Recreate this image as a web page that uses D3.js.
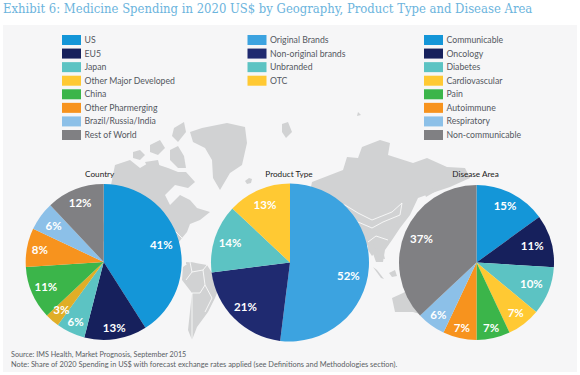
<!DOCTYPE html>
<html>
<head>
<meta charset="utf-8">
<script src="https://cdn.jsdelivr.net/npm/d3@7"></script>
<style>
    html, body { margin: 0; padding: 0; background: #fff; }
    svg { display: block; }
    text { font-family: "Lato", "Open Sans", sans-serif; }
</style>
</head>
<body>
<div id="chart"></div>
<script>
// Exhibit 6: three pies over a grey world map

const titleText = 'Exhibit 6: Medicine Spending in 2020 US$ by Geography, Product Type and Disease Area';
const sourceText = 'Source: IMS Health, Market Prognosis, September 2015';
const noteText = 'Note: Share of 2020 Spending in US$ with forecast exchange rates applied (see Definitions and Methodologies section).';

const countryNames = ['US', 'EU5', 'Japan', 'Other Major Developed', 'China', 'Other Pharmerging', 'Brazil/Russia/India', 'Rest of World'];
const countryValues = [41, 13, 6, 3, 11, 8, 6, 12];
const productNames = ['Original Brands', 'Non-original brands', 'Unbranded', 'OTC'];
const productValues = [52, 21, 14, 13];
const diseaseNames = ['Communicable', 'Oncology', 'Diabetes', 'Cardiovascular', 'Pain', 'Autoimmune', 'Respiratory', 'Non-communicable'];
const diseaseValues = [15, 11, 10, 7, 7, 7, 6, 37];

const legendColors = ['#1496d8', '#16205c', '#5cc3c3', '#ffc933', '#3bb54a', '#f7931e', '#8cc0e8', '#808083'];
const countryColors = ['#1496d8', '#16205c', '#5cc3c3', '#e0ae27', '#3bb54a', '#f7931e', '#8cc0e8', '#808083'];
const productColors = ['#3ca3e0', '#1f2a70', '#5cc3c3', '#ffc933'];

// label distance from the centre, slice by slice, as placed in the original
const countryLabelR = [60, 67, 66, 64, 63, 65, 62, 64];
const productLabelR = [60, 63, 63, 63];
const diseaseLabelR = [63, 58, 59, 64, 67, 67, 65, 60];
const productLabelTurn = [0.17, 0, 0, 0]; // the 52% label sits below the slice middle

// background map outlines, in picture pixels
const mapLand = [
    // Greenland
    [[190,132],[202,128],[227,123],[245,127],[247,143],[242,165],[230,173],[220,190],[213,178],[212,160],[205,148],[193,142]],
    // Iceland
    [[245,181],[249,178],[252,179],[251,183],[247,184]],
    // North America
    [[115,165],[130,160],[140,168],[150,162],[168,168],[178,172],[186,172],[195,182],[188,188],[175,185],[165,195],[170,205],[180,195],[190,200],[197,208],[210,212],[200,220],[190,224],[187,232],[182,238],[176,246],[150,260],[100,240]],
    // Canadian islands
    [[133,152],[140,150],[145,155],[140,160],[133,158]],
    [[150,145],[160,140],[165,148],[158,155],[150,152]],
    [[170,150],[178,146],[184,156],[186,168],[178,168],[170,160]],
    [[174,128],[184,122],[186,132],[178,142],[172,136]],
    [[145,162],[158,160],[160,168],[148,168]],
    // Cuba and the Caribbean
    [[186,262],[196,263],[194,265],[186,264]],
    // South America
    [[183,267],[190,262],[207,265],[212,273],[222,280],[215,298],[208,312],[197,327],[192,340],[188,330],[192,293],[182,280]],
    // Svalbard and Novaya Zemlya
    [[282,124],[288,122],[292,132],[286,138],[282,132]],
    [[358,112],[361,115],[357,116]],
    // Eurasia
    [[312,182],[343,170],[347,157],[358,158],[362,147],[380,140],[390,143],[388,155],[413,163],[427,158],[447,167],[465,168],[470,178],[450,187],[432,193],[418,198],[410,215],[400,228],[392,240],[385,250],[383,262],[376,262],[370,245],[350,250],[300,240]],
    // Japan
    [[424,192],[436,187],[438,190],[426,197]],
    // Indonesia and the Philippines
    [[368,243],[373,241],[376,252],[372,256],[368,250]],
    [[377,248],[383,251],[385,259],[379,258]],
    [[373,267],[377,270],[384,279],[381,278]],
    [[389,273],[395,270],[397,276],[392,277]],
    // Australia
    [[392,298],[403,293],[425,280],[440,320],[413,312],[395,312]]
];
const mapBorders = [
    [[190,262],[192,272],[203,270],[207,265]],
    [[192,272],[186,280]],
    [[203,270],[205,285],[212,298],[205,312]],
    [[192,293],[200,293],[205,285]],
    [[192,293],[192,340]],
    [[300,210],[345,205],[358,213],[372,220],[392,212],[402,203],[400,215],[383,222],[372,228],[358,222],[348,213]],
    [[160,232],[176,232],[182,238]],
    [[368,242],[376,236],[388,240]]
];

const width = 580;
const height = 375;

const svg = d3.select('#chart').append('svg')
    .attr('width', width)
    .attr('height', height);

svg.append('text')
    .attr('x', 3)
    .attr('y', 12.5)
    .attr('font-size', '12.95px')
    .attr('fill', '#6bb4dd')
    .style('font-family', '"DejaVu Serif", serif')
    .style('font-stretch', 'condensed')
    .text(titleText);

svg.append('rect')
    .attr('x', 3)
    .attr('y', 25)
    .attr('width', 574)
    .attr('height', 347)
    .attr('fill', '#f6f6f7');

// Map
const mapLine = d3.line().curve(d3.curveLinearClosed);
const mapG = svg.append('g');
mapLand.forEach(shape => {
    mapG.append('path')
        .attr('d', mapLine(shape))
        .attr('fill', '#d1d2d3');
});
const borderLine = d3.line();
mapBorders.forEach(shape => {
    mapG.append('path')
        .attr('d', borderLine(shape))
        .attr('fill', 'none')
        .attr('stroke', '#fff')
        .attr('stroke-width', 0.8);
});

// Legends
function drawLegend(names, colors, swatchX) {
    const rowY = d3.scalePoint()
        .domain(d3.range(8))
        .range([40, 135]);
    const g = svg.append('g');
    names.forEach((name, i) => {
        g.append('rect')
            .attr('x', swatchX)
            .attr('y', rowY(i) - 5)
            .attr('width', 19)
            .attr('height', 10)
            .attr('fill', colors[i]);
        g.append('text')
            .attr('x', swatchX + 22.5)
            .attr('y', rowY(i) + 3)
            .attr('font-size', '8.7px')
            .attr('fill', '#54585f')
            .text(name);
    });
}
drawLegend(countryNames, legendColors, 62);
drawLegend(productNames, productColors, 247.5);
drawLegend(diseaseNames, legendColors, 424);

// Pies
function drawPie(title, values, colors, labelRadii, cx, cy, radius, labelTurn) {
    const pie = d3.pie().sort(null).value(d => d);
    const arc = d3.arc().innerRadius(0).outerRadius(radius);
    const g = svg.append('g')
        .attr('transform', `translate(${cx},${cy})`);

    const slices = pie(values);
    g.selectAll('path')
        .data(slices)
        .enter()
        .append('path')
        .attr('d', arc)
        .attr('fill', (d, i) => colors[i]);

    slices.forEach((d, i) => {
        const turn = labelTurn ? labelTurn[i] : 0;
        const angle = (d.startAngle + d.endAngle) / 2 + turn;
        g.append('text')
            .attr('x', Math.sin(angle) * labelRadii[i])
            .attr('y', -Math.cos(angle) * labelRadii[i])
            .attr('dy', '0.35em')
            .attr('text-anchor', 'middle')
            .attr('font-size', '11.5px')
            .attr('font-weight', 700)
            .attr('fill', '#fff')
            .text(d.value + '%');
    });

    g.append('text')
        .attr('x', title === 'Country' ? -4 : -1)
        .attr('y', 177 - cy)
        .attr('text-anchor', 'middle')
        .attr('font-size', '8.2px')
        .attr('fill', '#222')
        .text(title);
}
drawPie('Country', countryValues, countryColors, countryLabelR, 103.7, 262, 78);
drawPie('Product Type', productValues, productColors, productLabelR, 290, 262.5, 79, productLabelTurn);
drawPie('Disease Area', diseaseValues, legendColors, diseaseLabelR, 476.5, 262.5, 77.5);

// Footer
svg.append('text')
    .attr('x', 11)
    .attr('y', 357)
    .attr('font-size', '7.2px')
    .attr('fill', '#5a5e64')
    .text(sourceText);
svg.append('text')
    .attr('x', 11)
    .attr('y', 367)
    .attr('font-size', '7.4px')
    .attr('fill', '#5a5e64')
    .text(noteText);
</script>
</body>
</html>
